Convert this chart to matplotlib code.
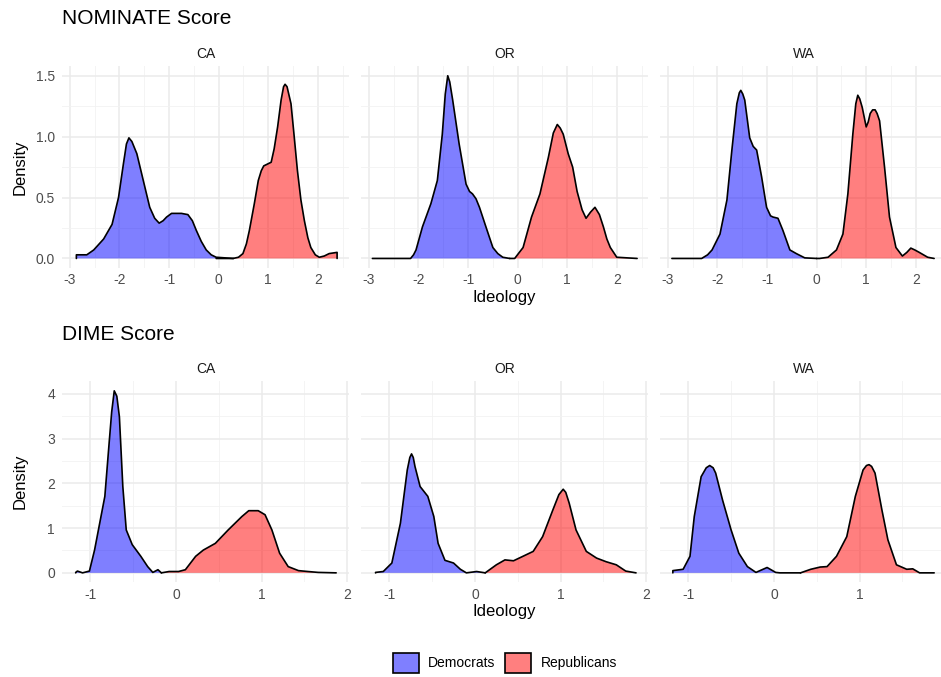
import matplotlib
matplotlib.use("Agg")
import matplotlib.pyplot as plt
from matplotlib.patches import Patch
from matplotlib.ticker import MultipleLocator

plt.rcParams['font.family'] = ['Liberation Sans', 'DejaVu Sans']

states = ['CA', 'OR', 'WA']
parties = ['Democrats', 'Republicans']

# NOMINATE score densities
nom_ca_dem_x = [-2.87, -2.66, -2.52, -2.32, -2.15, -2.02, -1.92, -1.86, -1.81, -1.75, -1.65, -1.52, -1.39, -1.29, -1.20, -1.12, -1.05, -0.95, -0.88, -0.75, -0.62, -0.53, -0.45, -0.35, -0.25, -0.15, -0.05, 0.30]
nom_ca_dem_y = [0.03, 0.03, 0.07, 0.16, 0.28, 0.50, 0.78, 0.94, 0.99, 0.96, 0.86, 0.64, 0.42, 0.33, 0.29, 0.31, 0.34, 0.37, 0.37, 0.37, 0.36, 0.31, 0.23, 0.14, 0.07, 0.03, 0.01, 0.0]
nom_ca_rep_x = [-0.05, 0.29, 0.40, 0.49, 0.56, 0.62, 0.72, 0.80, 0.86, 0.91, 0.96, 1.06, 1.12, 1.19, 1.26, 1.31, 1.34, 1.38, 1.46, 1.52, 1.59, 1.66, 1.73, 1.80, 1.86, 1.95, 2.03, 2.13, 2.23, 2.39]
nom_ca_rep_y = [0.0, 0.0, 0.01, 0.04, 0.12, 0.23, 0.45, 0.64, 0.72, 0.76, 0.77, 0.79, 0.90, 1.08, 1.30, 1.41, 1.43, 1.41, 1.27, 1.02, 0.72, 0.48, 0.31, 0.17, 0.09, 0.03, 0.01, 0.02, 0.04, 0.05]

nom_or_dem_x = [-2.93, -2.16, -2.10, -2.05, -1.92, -1.75, -1.62, -1.52, -1.46, -1.41, -1.37, -1.31, -1.18, -1.04, -0.97, -0.91, -0.84, -0.77, -0.64, -0.50, -0.40, -0.30, -0.16]
nom_or_dem_y = [0.0, 0.0, 0.03, 0.07, 0.26, 0.45, 0.64, 1.02, 1.35, 1.50, 1.45, 1.30, 0.94, 0.61, 0.55, 0.53, 0.49, 0.42, 0.26, 0.09, 0.04, 0.01, 0.0]
nom_or_rep_x = [-0.16, -0.06, 0.11, 0.28, 0.45, 0.62, 0.72, 0.80, 0.86, 0.92, 1.02, 1.11, 1.20, 1.30, 1.38, 1.47, 1.56, 1.65, 1.73, 1.80, 1.87, 2.00, 2.41]
nom_or_rep_y = [0.0, 0.0, 0.09, 0.34, 0.53, 0.83, 1.03, 1.10, 1.07, 1.02, 0.86, 0.75, 0.55, 0.40, 0.33, 0.38, 0.42, 0.36, 0.26, 0.16, 0.09, 0.01, 0.0]

nom_wa_dem_x = [-2.92, -2.32, -2.20, -2.11, -1.95, -1.81, -1.71, -1.61, -1.56, -1.53, -1.49, -1.45, -1.35, -1.28, -1.21, -1.11, -1.01, -0.93, -0.88, -0.78, -0.68, -0.54, -0.41, -0.24, 0.0]
nom_wa_dem_y = [0.0, 0.0, 0.03, 0.07, 0.20, 0.48, 0.89, 1.27, 1.36, 1.38, 1.35, 1.30, 0.99, 0.92, 0.89, 0.67, 0.42, 0.35, 0.34, 0.33, 0.23, 0.07, 0.04, 0.005, 0.0]
nom_wa_rep_x = [0.0, 0.06, 0.23, 0.40, 0.53, 0.63, 0.73, 0.79, 0.83, 0.87, 0.92, 1.00, 1.04, 1.08, 1.13, 1.18, 1.22, 1.27, 1.37, 1.47, 1.60, 1.73, 1.82, 1.90, 1.98, 2.07, 2.24, 2.37]
nom_wa_rep_y = [0.0, 0.0, 0.01, 0.07, 0.20, 0.53, 1.02, 1.27, 1.34, 1.31, 1.24, 1.08, 1.12, 1.19, 1.22, 1.22, 1.19, 1.13, 0.75, 0.34, 0.09, 0.02, 0.05, 0.085, 0.07, 0.05, 0.01, 0.0]

# DIME score densities
dime_ca_dem_x = [-1.17, -1.15, -1.09, -1.01, -0.95, -0.89, -0.83, -0.78, -0.75, -0.72, -0.69, -0.66, -0.62, -0.58, -0.51, -0.41, -0.33, -0.27, -0.21, -0.17]
dime_ca_dem_y = [0.01, 0.04, 0.0, 0.04, 0.51, 1.11, 1.71, 2.90, 3.60, 4.07, 3.95, 3.49, 1.93, 0.96, 0.63, 0.37, 0.14, 0.01, 0.07, 0.0]
dime_ca_rep_x = [-0.17, -0.08, 0.03, 0.11, 0.23, 0.32, 0.46, 0.61, 0.77, 0.85, 0.96, 1.04, 1.12, 1.21, 1.31, 1.43, 1.54, 1.66, 1.87]
dime_ca_rep_y = [0.0, 0.03, 0.03, 0.07, 0.37, 0.51, 0.66, 0.96, 1.26, 1.39, 1.39, 1.30, 0.96, 0.44, 0.14, 0.05, 0.03, 0.01, 0.0]

dime_or_dem_x = [-1.16, -1.07, -0.97, -0.87, -0.79, -0.76, -0.74, -0.72, -0.70, -0.64, -0.55, -0.48, -0.43, -0.35, -0.25, -0.17, -0.10, 0.02, 0.12]
dime_or_dem_y = [0.01, 0.03, 0.22, 1.11, 2.30, 2.58, 2.66, 2.58, 2.38, 1.93, 1.71, 1.26, 0.66, 0.28, 0.22, 0.08, 0.0, 0.03, 0.0]
dime_or_rep_x = [0.12, 0.25, 0.35, 0.45, 0.56, 0.68, 0.79, 0.91, 0.98, 1.03, 1.06, 1.10, 1.18, 1.30, 1.42, 1.53, 1.65, 1.76, 1.88]
dime_or_rep_y = [0.0, 0.18, 0.29, 0.27, 0.37, 0.48, 0.81, 1.41, 1.75, 1.87, 1.80, 1.56, 0.96, 0.48, 0.33, 0.25, 0.18, 0.04, 0.0]

dime_wa_dem_x = [-1.18, -1.06, -0.98, -0.93, -0.85, -0.79, -0.75, -0.71, -0.68, -0.60, -0.50, -0.41, -0.31, -0.21, -0.08, 0.02, 0.07, 0.31]
dime_wa_dem_y = [0.05, 0.08, 0.37, 1.26, 2.15, 2.35, 2.40, 2.35, 2.23, 1.63, 0.96, 0.44, 0.14, 0.01, 0.12, 0.01, 0.0, 0.0]
dime_wa_rep_x = [0.31, 0.43, 0.54, 0.62, 0.73, 0.85, 0.95, 1.04, 1.08, 1.11, 1.14, 1.18, 1.26, 1.33, 1.43, 1.55, 1.62, 1.70, 1.87]
dime_wa_rep_y = [0.0, 0.08, 0.13, 0.14, 0.37, 0.81, 1.71, 2.30, 2.40, 2.42, 2.38, 2.23, 1.41, 0.74, 0.18, 0.08, 0.09, 0.0, 0.0]

nominate = {
    'CA': [(nom_ca_dem_x, nom_ca_dem_y), (nom_ca_rep_x, nom_ca_rep_y)],
    'OR': [(nom_or_dem_x, nom_or_dem_y), (nom_or_rep_x, nom_or_rep_y)],
    'WA': [(nom_wa_dem_x, nom_wa_dem_y), (nom_wa_rep_x, nom_wa_rep_y)],
}
dime = {
    'CA': [(dime_ca_dem_x, dime_ca_dem_y), (dime_ca_rep_x, dime_ca_rep_y)],
    'OR': [(dime_or_dem_x, dime_or_dem_y), (dime_or_rep_x, dime_or_rep_y)],
    'WA': [(dime_wa_dem_x, dime_wa_dem_y), (dime_wa_rep_x, dime_wa_rep_y)],
}

fill_colors = [(0, 0, 1, 0.5), (1, 0, 0, 0.5)]

W, H = 941, 677
fig = plt.figure(figsize=(W / 100, H / 100), dpi=100)


def fx(px):
    return px / W


def fy(py):
    return 1 - py / H


panel_left = [62, 361, 660]
panel_w = 287


def draw_row(data, top, bottom, xlim, ylim, xmajor, ymajor, title, title_y, yfmt, hide_last_x):
    for i, st in enumerate(states):
        ax = fig.add_axes([fx(panel_left[i]), fy(bottom), panel_w / W, (bottom - top) / H])
        ax.set_xlim(*xlim)
        ax.set_ylim(*ylim)
        ax.xaxis.set_major_locator(MultipleLocator(xmajor))
        ax.xaxis.set_minor_locator(MultipleLocator(xmajor / 2))
        ax.yaxis.set_major_locator(MultipleLocator(ymajor))
        ax.yaxis.set_minor_locator(MultipleLocator(ymajor / 2))
        ax.grid(which='major', color='#EBEBEB', lw=1.1)
        ax.grid(which='minor', color='#F2F2F2', lw=0.6)
        ax.set_axisbelow(True)
        for s in ax.spines.values():
            s.set_visible(False)
        ax.tick_params(which='both', length=0, labelsize=10, labelcolor='#4D4D4D')
        ax.tick_params(axis='x', pad=4)
        ax.tick_params(axis='y', pad=5)
        if hide_last_x and i == 2:
            ax.xaxis.set_major_formatter(lambda v, p: '' if v > 1.5 else f'{v:g}')
        else:
            ax.xaxis.set_major_formatter(lambda v, p: f'{v:g}')
        if i == 0:
            ax.yaxis.set_major_formatter(yfmt)
            ax.set_ylabel('Density', fontsize=12)
            ax.yaxis.set_label_coords((28 - panel_left[0]) / panel_w, 0.5)
        else:
            ax.set_yticklabels([])
        if i == 1:
            ax.set_xlabel('Ideology', fontsize=12, labelpad=2)
        for (xs, ys), c in zip(data[st], fill_colors):
            px = [xs[0]] + list(xs) + [xs[-1]]
            py = [0] + list(ys) + [0]
            ax.fill(px, py, facecolor=c, edgecolor='none', zorder=2)
            ax.plot(px, py, color='black', lw=1.2, zorder=3,
                    solid_joinstyle='round', solid_capstyle='round')
        fig.text(fx(panel_left[i] + panel_w / 2), fy(top - 12), st, ha='center', va='center',
                 fontsize=10, color='#1A1A1A')
    fig.text(fx(62), fy(title_y), title, ha='left', va='center', fontsize=15)


draw_row(nominate, 66, 267.6, (-3.16, 2.63), (-0.075, 1.58), 1, 0.5,
         'NOMINATE Score', 18.5, lambda v, p: f'{v:.1f}', False)
draw_row(dime, 381, 582, (-1.33, 2.02), (-0.2045, 4.29), 1, 1,
         'DIME Score', 334.5, lambda v, p: f'{v:g}', True)

handles = [Patch(facecolor=c, edgecolor='black', lw=1.2) for c in fill_colors]
fig.legend(handles, parties, loc='center', bbox_to_anchor=(fx(505), fy(663)), ncol=2,
           frameon=False, fontsize=10, handlelength=1.85, handleheight=1.85,
           handletextpad=0.7, columnspacing=0.7, borderpad=0)

fig.savefig('out.png', dpi=100)
